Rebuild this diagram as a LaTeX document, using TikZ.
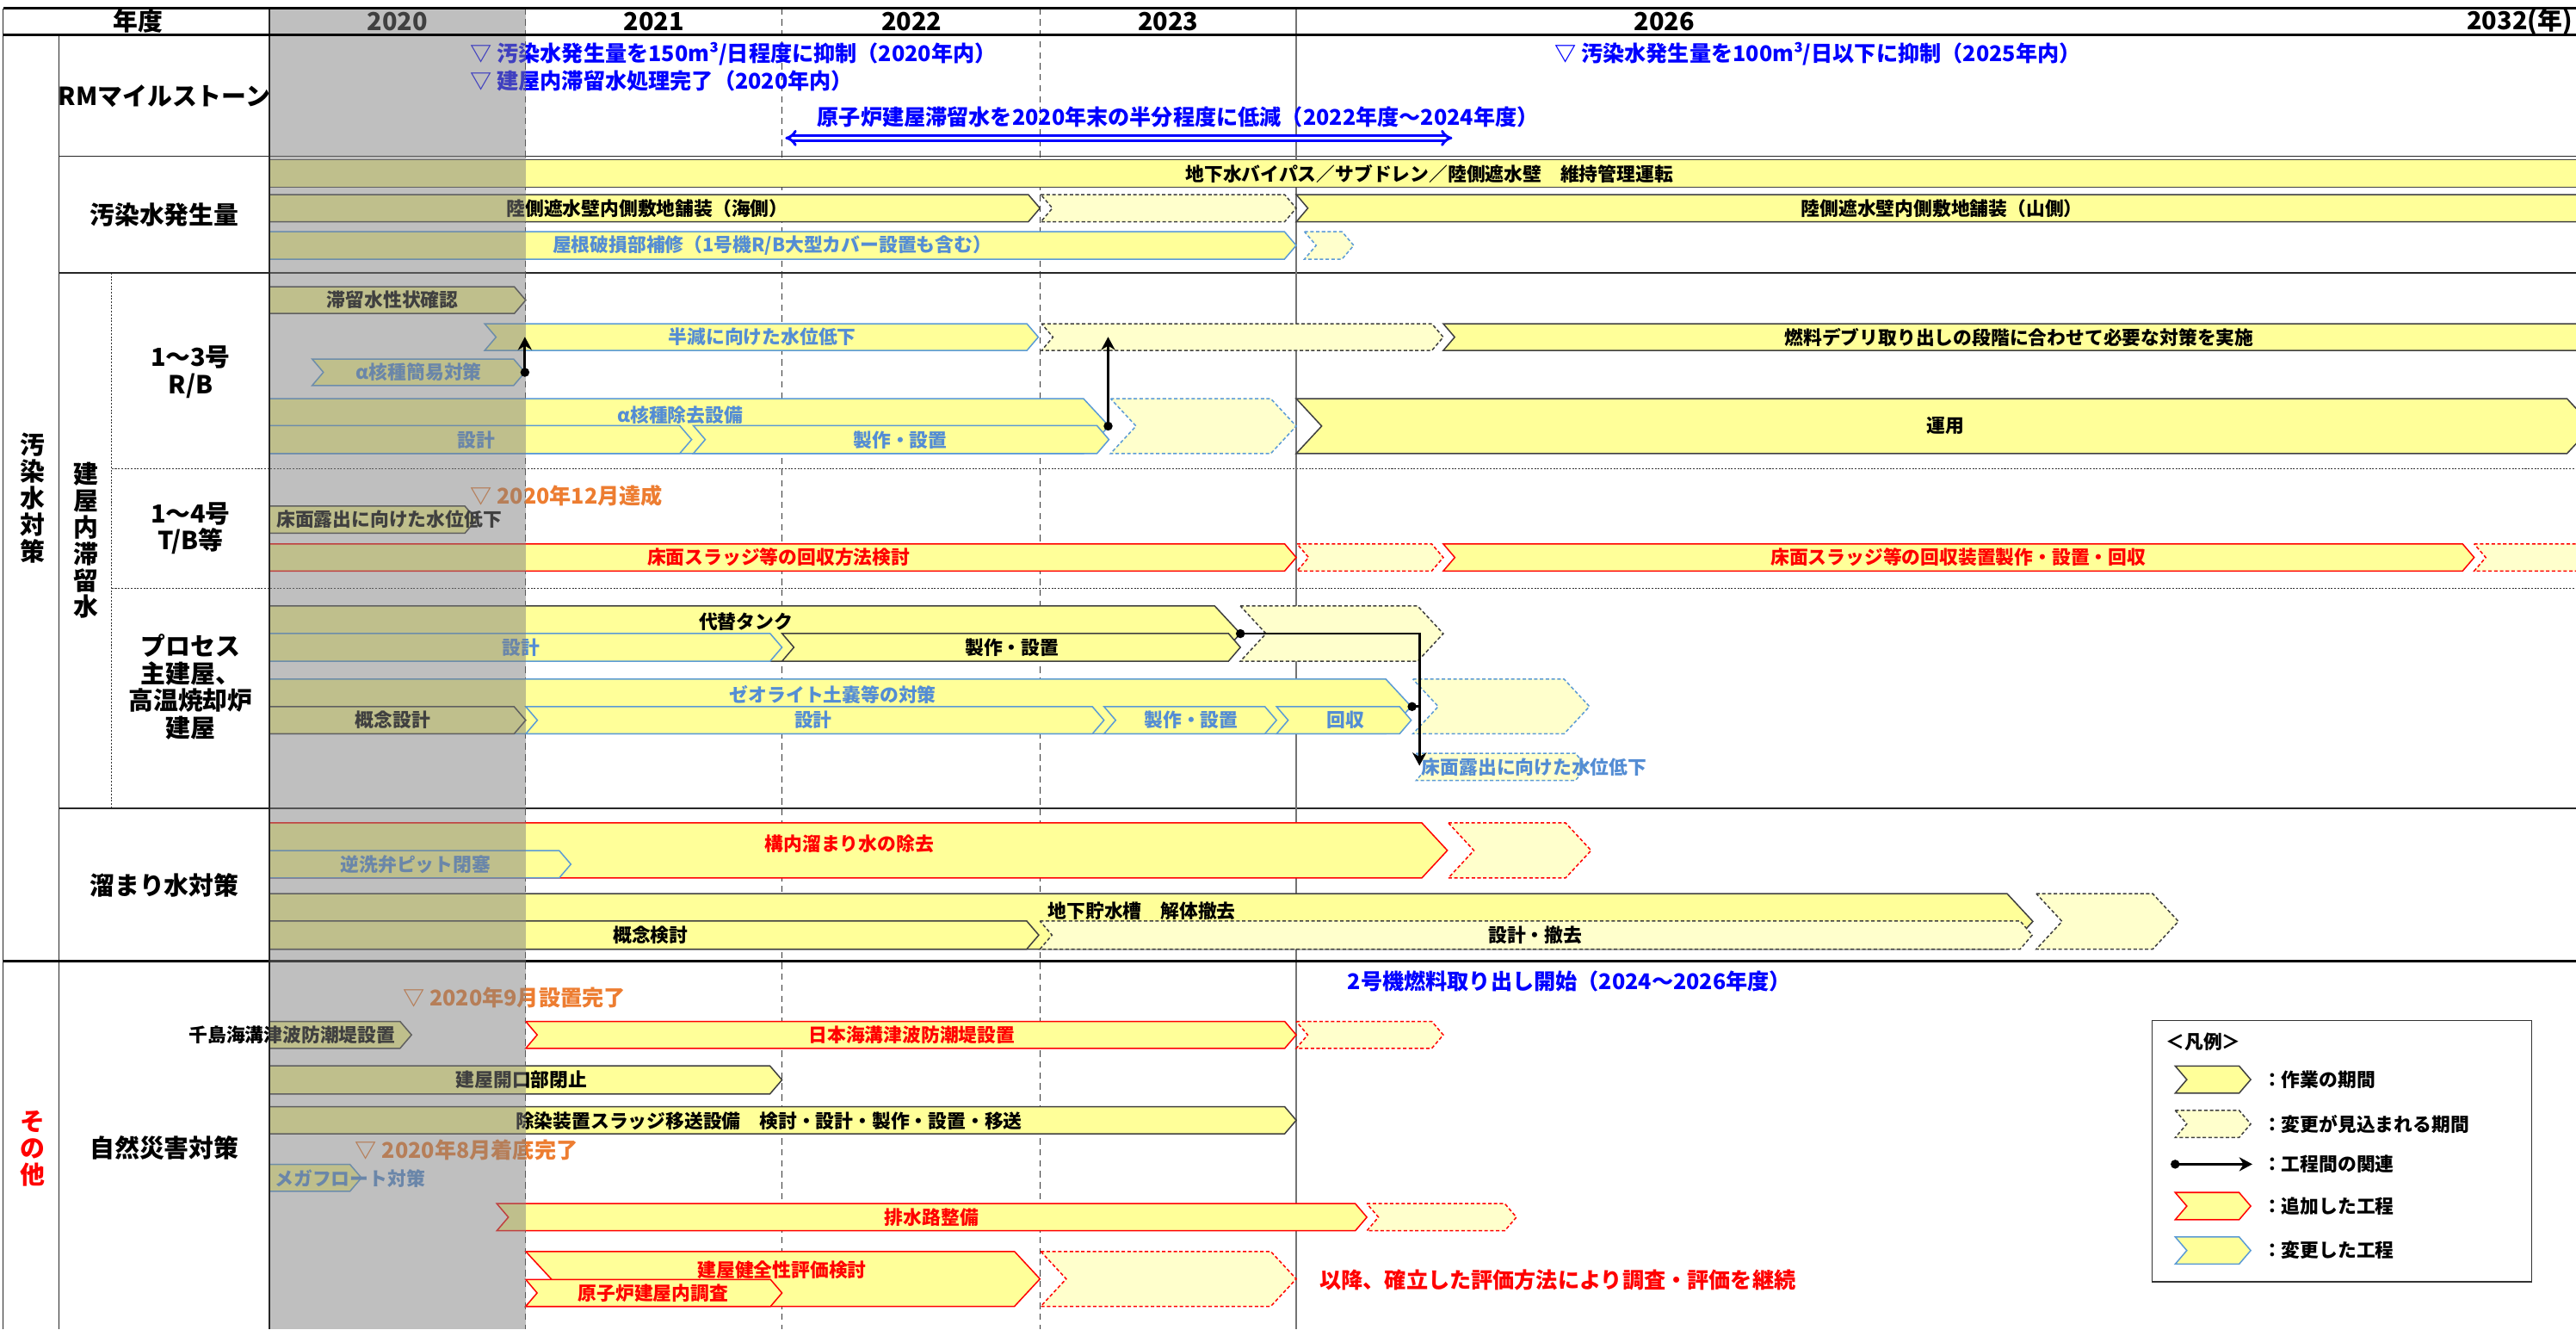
\documentclass[tikz,border=0pt]{standalone}
\usepackage{fontspec}
\setmainfont{Noto Sans CJK JP}
\usetikzlibrary{arrows.meta}
\definecolor{barfill}{RGB}{255,255,153}
\definecolor{barlight}{RGB}{255,255,204}
\definecolor{chgblue}{RGB}{91,155,213}
\definecolor{chgtext}{RGB}{84,141,212}
\definecolor{msblue}{RGB}{0,0,255}
\definecolor{msorange}{RGB}{237,125,49}
% chevron bar: [notch] {style}{x left}{x tip}{y top}{y bottom}
\newcommand{\chevron}[6][1]{%
  \pgfmathsetmacro{\chdep}{0.5*(#6-#5)-1.2}%
  \pgfmathsetmacro{\chmid}{(#5+#6)/2}%
  \draw[#2] (#3,#5) -- ({#4-\chdep},#5) -- (#4,\chmid) -- ({#4-\chdep},#6) -- (#3,#6) -- ({#3+#1*\chdep},\chmid) -- cycle;}

\begin{document}
\begin{tikzpicture}[x=0.02cm,y=-0.02cm]
\tikzset{
  gridln/.style={draw=black!85,line width=.4pt},
  hdrln/.style={draw=black,line width=.9pt},
  yearln/.style={draw=black!80,line width=.4pt,dash pattern=on 2.2pt off 1.6pt},
  subln/.style={draw=black!80,line width=.3pt,dash pattern=on .6pt off .5pt},
  wbar/.style={draw=black!75,fill=barfill,line width=.45pt},
  wdsh/.style={draw=black!75,fill=barlight,line width=.45pt,dash pattern=on 1.2pt off .8pt},
  abar/.style={draw=red,fill=barfill,line width=.45pt},
  adsh/.style={draw=red,fill=barlight,line width=.45pt,dash pattern=on 1.2pt off .8pt},
  cbar/.style={draw=chgblue,fill=barfill,line width=.45pt},
  cdsh/.style={draw=chgblue,fill=barlight,line width=.45pt,dash pattern=on 1.2pt off .8pt},
  btxt/.style={inner sep=0pt,font=\bfseries\fontsize{6.5}{7.5}\selectfont},
  rtxt/.style={btxt,text=red},
  ctxt/.style={btxt,text=chgtext},
  rowlab/.style={inner sep=0pt,align=center,font=\bfseries\fontsize{8.6}{9.4}\selectfont},
  vlab/.style={inner sep=0pt,align=center,font=\bfseries\fontsize{8.6}{9.2}\selectfont},
  hdr/.style={inner sep=0pt,font=\bfseries\fontsize{8.6}{9.4}\selectfont},
  msb/.style={inner sep=0pt,anchor=west,text=msblue,font=\bfseries\fontsize{7.5}{8.5}\selectfont},
  mso/.style={msb,text=msorange},
  rel/.style={-{Stealth[length=1.6mm,width=1.7mm]},draw=black,line width=.85pt},
  reldot/.style={fill=black},
  rmspan/.style={draw=msblue,line width=.9pt,double=white,double distance=.9pt,{Implies}-{Implies}},
  shade20/.style={fill=gray,opacity=.5},
  legbox/.style={draw=black!80,fill=white,line width=.45pt}
}
\useasboundingbox (0,0) rectangle (1568,809);
\fill[white] (0,0) rectangle (1568,809);

% grid
\draw[gridln] (2,5) -- (2,809);
\draw[gridln] (36,21) -- (36,809);
\draw[subln] (68,166) -- (68,492);
\draw[gridln] (36,95) -- (1600,95);
\draw[gridln] (36,166) -- (1600,166);
\draw[gridln] (36,492) -- (1600,492);
\draw[subln] (68,285) -- (1600,285);
\draw[subln] (68,358) -- (1600,358);
\draw[yearln] (320,5) -- (320,809);
\draw[yearln] (476,5) -- (476,809);
\draw[yearln] (633,5) -- (633,809);
\draw[draw=black!55,line width=.4pt] (789,5) -- (789,809);
\draw[hdrln] (2,585) -- (1600,585);

% header
\node[hdr] (hNendo) at (84,13) {年度};
\node[hdr] (h2020) at (242,13) {2020};
\node[hdr] (h2021) at (398,13) {2021};
\node[hdr] (h2022) at (555,13) {2022};
\node[hdr] (h2023) at (711,13) {2023};
\node[hdr] (h2026) at (1013,13) {2026};
\node[hdr,anchor=east] (h2032) at (1566,13) {2032(年)};

% row labels
\node[rowlab] (labRM) at (100,58.5) {RMマイルストーン};
\node[rowlab] (labGen) at (100,131) {汚染水発生量};
\node[rowlab] (labRB) at (116,226.5) {1～3号\\R/B};
\node[rowlab] (labTB) at (116,321.6) {1～4号\\T/B等};
\node[rowlab] (labProc) at (116,418) {プロセス\\主建屋、\\高温焼却炉\\建屋};
\node[rowlab] (labPool) at (100,539) {溜まり水対策};
\node[rowlab] (labNat) at (100,698.5) {自然災害対策};
\node[vlab] (vPollute) at (20,303) {汚\\染\\水\\対\\策};
\node[vlab] (vBldg) at (52.5,329) {建\\屋\\内\\滞\\留\\水};
\node[vlab,text=red] (vOther) at (20,699) {そ\\の\\他};

% RM milestones
\node[msb] (msGen150) at (286,33) {▽ 汚染水発生量を150m³/日程度に抑制（2020年内）};
\node[msb] (msBldg) at (286,49) {▽ 建屋内滞留水処理完了（2020年内）};
\node[msb,anchor=center] (msHalf) at (717,71) {原子炉建屋滞留水を2020年末の半分程度に低減（2022年度～2024年度）};
\node[msb] (msGen100) at (946,33) {▽ 汚染水発生量を100m³/日以下に抑制（2025年内）};
\coordinate (rmL) at (478,84);
\coordinate (rmR) at (884,84);
\draw[rmspan] (rmL) -- (rmR);

% 汚染水発生量
\draw[wbar] (164,97.3) rectangle (1600,114);
\node[btxt] (tBypass) at (870,105.7) {地下水バイパス／サブドレン／陸側遮水壁　維持管理運転};
\chevron[0]{wbar}{164}{633}{118.4}{135}
\node[btxt] (tSeaPave) at (394,126.7) {陸側遮水壁内側敷地舗装（海側）};
\chevron{wdsh}{633.5}{789}{118.4}{135}
\chevron{wbar}{789}{1620}{118.4}{135}
\node[btxt] (tMtPave) at (1182,126.7) {陸側遮水壁内側敷地舗装（山側）};
\chevron[0]{cbar}{164}{789}{141}{157.7}
\node[ctxt] (tRoof) at (470,149.4) {屋根破損部補修（1号機R/B大型カバー設置も含む）};
\chevron{cdsh}{794}{824}{141}{157.7}

% 1～3号 R/B
\chevron[0]{wbar}{164}{320}{174.5}{190.8}
\node[btxt] (tProp) at (239,182.6) {滞留水性状確認};
\chevron{cbar}{295}{632}{197}{213.3}
\node[ctxt] (tHalf) at (464,205.2) {半減に向けた水位低下};
\chevron{wdsh}{634}{878.5}{197}{213.3}
\chevron{wbar}{878.5}{1620}{197}{213.3}
\node[btxt] (tDebris) at (1229,205.2) {燃料デブリ取り出しの段階に合わせて必要な対策を実施};
\chevron{cbar}{190}{319.5}{218.5}{234.6}
\node[ctxt] (tAlphaS) at (255,226.6) {α核種簡易対策};
\chevron[0]{cbar}{164}{675}{242.6}{276}
\node[ctxt] (tAlphaEq) at (414,252.5) {α核種除去設備};
\chevron[0]{cbar}{164}{421}{259}{276}
\node[ctxt] (tAlphaDes) at (290,268) {設計};
\chevron{cbar}{422}{675}{259}{276}
\node[ctxt] (tAlphaFab) at (548,268) {製作・設置};
\chevron{cdsh}{676}{789}{242.6}{276}
\chevron{wbar}{789}{1578}{242.6}{276}
\node[btxt] (tOper) at (1184,259.3) {運用};

% 1～4号 T/B等
\node[mso] (msTB) at (286,301.5) {▽ 2020年12月達成};
\chevron[0]{wbar}{164}{290}{308}{324.5}
\node[btxt,anchor=west] (tTBlow) at (168,316.2) {床面露出に向けた水位低下};
\chevron[0]{abar}{164}{789}{331}{347.5}
\node[rtxt] (tSludgeM) at (474,339.2) {床面スラッジ等の回収方法検討};
\chevron{adsh}{789.5}{878.5}{331}{347.5}
\chevron{abar}{878.5}{1506}{331}{347.5}
\node[rtxt] (tSludgeR) at (1192,339.2) {床面スラッジ等の回収装置製作・設置・回収};
\chevron{adsh}{1506}{1620}{331}{347.5}

% プロセス主建屋、高温焼却炉建屋
\chevron[0]{wbar}{164}{755}{368.8}{402.4}
\node[btxt] (tTank) at (454,378.5) {代替タンク};
\chevron[0]{cbar}{164}{476}{385.5}{402.4}
\node[ctxt] (tTankDes) at (317,394) {設計};
\chevron{wbar}{476}{755}{385.5}{402.4}
\node[btxt] (tTankFab) at (616,394) {製作・設置};
\chevron{wdsh}{755}{878.5}{368.8}{402.4}
\chevron[0]{cbar}{164}{859}{413.3}{446.6}
\node[ctxt] (tZeo) at (507,422.6) {ゼオライト土嚢等の対策};
\chevron[0]{wbar}{164}{320}{430}{446.6}
\node[btxt] (tZeoCon) at (239,438.3) {概念設計};
\chevron{cbar}{320}{672}{430}{446.6}
\node[ctxt] (tZeoDes) at (495,438.3) {設計};
\chevron{cbar}{672}{777}{430}{446.6}
\node[ctxt] (tZeoFab) at (725,438.3) {製作・設置};
\chevron{cbar}{777}{859}{430}{446.6}
\node[ctxt] (tZeoRec) at (819,438.3) {回収};
\chevron{cdsh}{860}{967.5}{413.3}{446.6}
\chevron{cdsh}{862}{966}{458.4}{475}
\node[ctxt,anchor=west] (tProcLow) at (865,466.7) {床面露出に向けた水位低下};

% 溜まり水対策
\chevron[0]{abar}{164}{881}{500.8}{534.3}
\node[rtxt] (tPool) at (517,513.4) {構内溜まり水の除去};
\chevron[0]{cbar}{164}{347.5}{517.6}{534.3}
\node[ctxt] (tValve) at (253,526) {逆洗弁ピット閉塞};
\chevron{adsh}{881.6}{968.5}{500.8}{534.3}
\chevron[0]{wbar}{164}{1237.4}{543.9}{577.6}
\node[btxt] (tUgTank) at (695,554.5) {地下貯水槽　解体撤去};
\chevron[0]{wbar}{164}{632.3}{560.5}{577.6}
\node[btxt] (tUgCon) at (396,569) {概念検討};
\chevron{wdsh}{633}{1237}{560.5}{577.6}
\node[btxt] (tUgDes) at (934.5,569) {設計・撤去};
\chevron{wdsh}{1239.5}{1326}{543.9}{577.6}

% 自然災害対策
\node[mso] (msChishima) at (245,607) {▽ 2020年9月設置完了};
\node[msb] (msUnit2) at (820,597) {2号機燃料取り出し開始（2024～2026年度）};
\chevron[0]{wbar}{164}{250.5}{621.6}{638}
\node[btxt,anchor=east] (tChishima) at (241,630) {千島海溝津波防潮堤設置};
\chevron{abar}{320}{789}{621.6}{638}
\node[rtxt] (tJapanTr) at (555,630) {日本海溝津波防潮堤設置};
\chevron{adsh}{789}{878.5}{621.6}{638}
\chevron[0]{wbar}{164}{476}{648.6}{665.8}
\node[btxt] (tOpening) at (317.5,657.2) {建屋開口部閉止};
\chevron[0]{wbar}{164}{789}{673.5}{690}
\node[btxt] (tDecon) at (468,682) {除染装置スラッジ移送設備　検討・設計・製作・設置・移送};
\node[mso] (msFloat) at (216,700) {▽ 2020年8月着底完了};
\chevron[0]{cbar}{164}{220}{708.6}{725}
\node[ctxt,anchor=west] (tFloat) at (167,717) {メガフロート対策};
\chevron{abar}{302.4}{832}{732.5}{749}
\node[rtxt] (tDrain) at (567,741) {排水路整備};
\chevron{adsh}{832}{923}{732.5}{749}
\chevron{abar}{320}{633}{761.6}{795}
\node[rtxt] (tSound) at (476,772.7) {建屋健全性評価検討};
\chevron{abar}{320}{476}{778.7}{795}
\node[rtxt] (tSurvey) at (397.6,787) {原子炉建屋内調査};
\chevron{adsh}{633.5}{789}{761.6}{795}
\node[msb,text=red] (tContinue) at (803,778.8) {以降、確立した評価方法により調査・評価を継続};

% 2020 shading
\fill[shade20] (164,5) rectangle (320,809);
\draw[gridln] (164,5) -- (164,809);
\draw[hdrln] (2,5) -- (1600,5);
\draw[hdrln] (2,21) -- (1600,21);

% relations
\coordinate (alphaTip) at (319.5,226.6);
\coordinate (halfA) at (319.5,205);
\draw[rel] (alphaTip) -- (halfA);
\fill[reldot] (alphaTip) circle (0.055cm);
\coordinate (alphaEqTip) at (674.5,259.3);
\coordinate (halfB) at (674.5,205);
\draw[rel] (alphaEqTip) -- (halfB);
\fill[reldot] (alphaEqTip) circle (0.055cm);
\coordinate (tankTip) at (755,385.6);
\coordinate (zeoTip) at (859.5,430);
\coordinate (procLow) at (864,466);
\draw[rel] (tankTip) -| (procLow);
\draw[line width=.85pt] (zeoTip) -- (zeoTip -| procLow);
\fill[reldot] (tankTip) circle (0.055cm);
\fill[reldot] (zeoTip) circle (0.055cm);

% legend
\draw[legbox] (1310,621) rectangle (1541,780);
\node[btxt,anchor=west] (legTitle) at (1318,634) {＜凡例＞};
\chevron{wbar}{1324}{1370}{648.7}{665.3}
\node[btxt,anchor=west] (legWork) at (1377,657) {：作業の期間};
\chevron{wdsh}{1324}{1370}{675.7}{692.3}
\node[btxt,anchor=west] (legChange) at (1377,684) {：変更が見込まれる期間};
\coordinate (legA) at (1324,708.5);
\coordinate (legB) at (1371,708.5);
\draw[rel] (legA) -- (legB);
\fill[reldot] (legA) circle (0.055cm);
\node[btxt,anchor=west] (legRel) at (1377,708.5) {：工程間の関連};
\chevron{abar}{1324}{1370}{725.7}{742.3}
\node[btxt,anchor=west] (legAdd) at (1377,734) {：追加した工程};
\chevron{cbar}{1324}{1370}{752.7}{769.3}
\node[btxt,anchor=west] (legMod) at (1377,761) {：変更した工程};
\end{tikzpicture}
\end{document}
